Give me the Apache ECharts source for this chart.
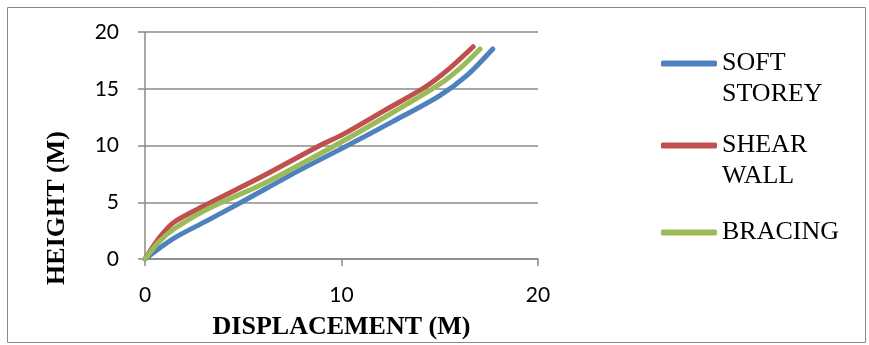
<!DOCTYPE html>
<html>
<head>
<meta charset="utf-8">
<script src="https://cdn.jsdelivr.net/npm/echarts@6/dist/echarts.min.js"></script>
<style>
html,body{margin:0;padding:0;background:#fff;}
#chart{width:869px;height:345px;}
</style>
</head>
<body>
<div id="chart"></div>
<script>
// Data: [displacement, height]
var seriesNames = ['SOFT STOREY', 'SHEAR WALL', 'BRACING'];
var softStorey = [[0,0],[1.44,1.8],[3.14,3.36],[4.9,5.0],[7.9,7.85],[10.2,9.9],[12.6,12.1],[15.0,14.4],[16.4,16.2],[17.7,18.5]];
var shearWall = [[0,0],[0.7,1.8],[1.44,3.2],[3.14,4.8],[6.1,7.4],[8.9,10.0],[10.1,11.0],[12.2,13.1],[14.3,15.2],[15.5,16.8],[16.7,18.7]];
var bracing = [[0,0],[0.7,1.5],[1.44,2.6],[3.14,4.37],[6.1,6.7],[9.67,10.0],[12.5,12.8],[15.0,15.4],[16.1,16.9],[17.05,18.5]];
var xTicks = [0, 10, 20];
var yTicks = [0, 5, 10, 15, 20];
var xTitle = 'DISPLACEMENT (M)';
var yTitle = 'HEIGHT (M)';

var colors = ['#4F81BD', '#C0504D', '#9BBB59'];
var dataSets = [softStorey, shearWall, bracing];
// a blank first line keeps the icon level with the first text line
var legendLabels = {'SOFT STOREY': ' \nSOFT\nSTOREY', 'SHEAR WALL': ' \nSHEAR\nWALL', 'BRACING': 'BRACING'};
var legendTops = [12, 94, 212];
var titleFont = {fontFamily: '"Liberation Serif", "Times New Roman", serif', fontWeight: 'bold', fontSize: 26, color: '#000'};

var chart = echarts.init(document.getElementById('chart'), null, {renderer: 'canvas'});
var option = {
  backgroundColor: '#fff',
  animation: false,
  graphic: [{
    type: 'rect',
    shape: {x: 7.5, y: 7.5, width: 858, height: 335},
    style: {fill: 'none', stroke: '#8a8a8a', lineWidth: 1},
    silent: true
  }, {
    type: 'text',
    x: 57, y: 208,
    rotation: Math.PI / 2,
    silent: true,
    style: {
      text: yTitle,
      fontFamily: titleFont.fontFamily, fontWeight: 'bold', fontSize: 26, fill: '#000',
      align: 'center', verticalAlign: 'middle'
    }
  }],
  grid: {left: 145, right: 331, top: 32, bottom: 83},
  legend: seriesNames.map(function (n, i) {
    return {
      orient: 'vertical',
      left: 656,
      top: legendTops[i],
      itemWidth: 56,
      itemHeight: 6,
      icon: 'roundRect',
      data: [{name: n}],
      formatter: function (name) { return legendLabels[name]; },
      textStyle: {
        fontFamily: '"Liberation Serif", "Times New Roman", serif',
        fontSize: 26,
        lineHeight: 31,
        color: '#000'
      },
      itemGap: 0
    };
  }),
  xAxis: {
    type: 'value',
    min: xTicks[0], max: xTicks[xTicks.length - 1], interval: 10,
    name: xTitle,
    nameLocation: 'middle',
    nameGap: 55,
    nameTextStyle: titleFont,
    axisLine: {show: true, lineStyle: {color: '#8a8a8a', width: 1.5}},
    axisTick: {show: true, length: 7, lineStyle: {color: '#8a8a8a', width: 1.5}},
    axisLabel: {margin: 26, fontFamily: 'Lato, "Open Sans", sans-serif', fontSize: 21, color: '#000'},
    splitLine: {show: false}
  },
  yAxis: {
    type: 'value',
    min: yTicks[0], max: yTicks[yTicks.length - 1], interval: 5,
    axisLine: {show: true, lineStyle: {color: '#8a8a8a', width: 1.5}},
    axisTick: {show: true, length: 7, lineStyle: {color: '#8a8a8a', width: 1.5}},
    axisLabel: {margin: 26, fontFamily: 'Lato, "Open Sans", sans-serif', fontSize: 21, color: '#000'},
    splitLine: {show: true, lineStyle: {color: '#8a8a8a', width: 1.5}}
  },
  series: seriesNames.map(function (n, i) {
    return {
      name: n,
      type: 'line',
      data: dataSets[i],
      smooth: 0.3,
      showSymbol: false,
      symbol: 'none',
      color: colors[i],
      lineStyle: {color: colors[i], width: 5, cap: 'round', join: 'round'}
    };
  })
};
chart.setOption(option);
</script>
</body>
</html>
